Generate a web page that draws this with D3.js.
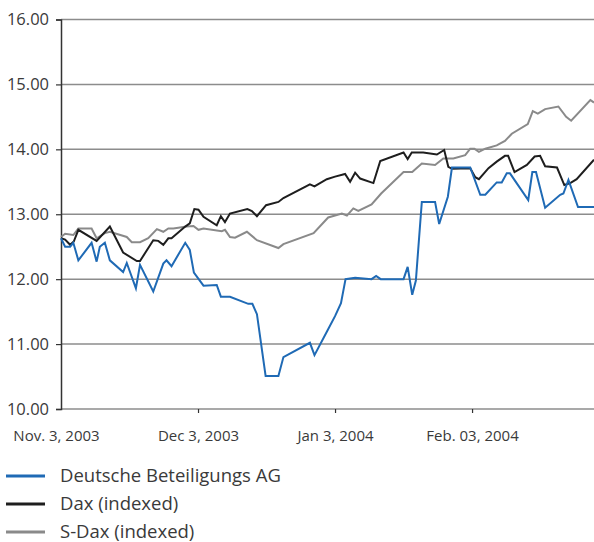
<!DOCTYPE html>
<html>
<head>
<meta charset="utf-8">
<script src="https://cdn.jsdelivr.net/npm/d3@7"></script>
<style>
  body { margin: 0; background: #fff; }
  svg text { font-family: "Open Sans", sans-serif; fill: #3a3a3a; }
</style>
</head>
<body>
<div id="chart"></div>
<script>
// x values are days since Nov. 3, 2003
const blueDays = [0, 0.9, 2.0, 2.7, 3.8, 6.7, 7.8, 8.5, 9.6, 10.7, 13.6, 14.4, 16.4, 17.3, 20.2, 22.4, 23.1, 24.2, 27.2, 28.2,
  29.1, 31.2, 34.1, 35.0, 37.0, 41.0, 41.9, 42.9, 44.8, 47.6, 48.7, 54.5, 55.5, 58.2, 60.0, 61.3, 62.3, 64.4, 68.0, 69.0,
  70.0, 75.0, 75.9, 76.9, 77.7, 79.0, 81.9, 82.8, 84.7, 85.6, 89.6, 91.8, 92.9, 95.4, 96.5, 97.6, 98.3, 102.3, 103.2, 104.0,
  106.0, 109.3, 110.0, 111.1, 113.2, 116.7];
const blueValues = [12.63, 12.50, 12.50, 12.56, 12.29, 12.56, 12.27, 12.50, 12.56, 12.29, 12.11, 12.25, 11.86, 12.22, 11.81, 12.24, 12.29, 12.20, 12.56, 12.45,
  12.10, 11.90, 11.91, 11.73, 11.73, 11.62, 11.62, 11.46, 10.51, 10.51, 10.80, 11.02, 10.83, 11.19, 11.43, 11.63, 12.00, 12.02, 12.00, 12.05,
  12.00, 12.00, 12.19, 11.76, 11.98, 13.19, 13.19, 12.85, 13.27, 13.72, 13.72, 13.30, 13.30, 13.49, 13.49, 13.63, 13.63, 13.22, 13.65, 13.65,
  13.10, 13.30, 13.32, 13.53, 13.11, 13.11];

const daxDays = [0, 0.9, 2.0, 2.8, 3.8, 7.8, 10.7, 13.6, 16.6, 17.3, 20.2, 21.3, 22.4, 23.5, 24.2, 27.2, 28.2, 29.2, 30.1, 31.2,
  34.1, 35.0, 35.9, 37.0, 40.8, 41.8, 42.9, 44.9, 47.6, 48.7, 54.5, 55.5, 58.2, 60.0, 62.2, 63.3, 64.4, 65.5, 68.4, 69.9,
  75.0, 75.9, 76.8, 79.3, 82.3, 83.9, 84.8, 85.6, 89.6, 90.7, 91.5, 93.6, 95.4, 97.2, 97.9, 99.3, 102.0, 103.7, 104.9, 106.0,
  108.6, 110.2, 111.5, 112.9, 116.7];
const daxValues = [12.63, 12.61, 12.53, 12.58, 12.76, 12.59, 12.81, 12.41, 12.28, 12.28, 12.60, 12.59, 12.53, 12.63, 12.63, 12.81, 12.86, 13.08, 13.07, 12.96,
  12.83, 12.97, 12.88, 13.01, 13.08, 13.05, 12.97, 13.14, 13.19, 13.25, 13.46, 13.43, 13.54, 13.58, 13.62, 13.50, 13.64, 13.55, 13.48, 13.82,
  13.95, 13.85, 13.95, 13.95, 13.92, 13.99, 13.73, 13.70, 13.71, 13.57, 13.54, 13.71, 13.81, 13.90, 13.90, 13.65, 13.76, 13.89, 13.90, 13.74,
  13.72, 13.45, 13.48, 13.54, 13.84];

const sdaxDays = [0, 0.9, 2.7, 3.8, 6.7, 7.8, 9.6, 10.7, 14.4, 15.5, 17.3, 19.1, 21.0, 22.4, 23.5, 24.6, 27.5, 29.0, 30.1, 31.2,
  35.2, 35.9, 37.0, 38.1, 40.7, 42.9, 47.6, 48.7, 55.3, 58.5, 61.5, 62.6, 64.0, 65.1, 68.0, 70.1, 75.0, 76.9, 79.0, 81.9,
  83.7, 85.9, 88.5, 89.6, 90.5, 91.5, 92.9, 95.4, 97.2, 98.7, 102.2, 103.3, 104.4, 106.0, 108.9, 110.6, 111.7, 115.9, 116.7];
const sdaxValues = [12.65, 12.70, 12.68, 12.78, 12.78, 12.63, 12.71, 12.73, 12.65, 12.57, 12.57, 12.63, 12.77, 12.73, 12.78, 12.78, 12.81, 12.82, 12.76, 12.78,
  12.74, 12.76, 12.65, 12.64, 12.73, 12.60, 12.48, 12.54, 12.71, 12.95, 13.01, 12.98, 13.09, 13.05, 13.15, 13.32, 13.65, 13.65, 13.78, 13.76,
  13.86, 13.86, 13.91, 14.01, 14.01, 13.96, 14.01, 14.06, 14.13, 14.24, 14.39, 14.59, 14.55, 14.62, 14.66, 14.50, 14.44, 14.76, 14.72];

const yTicks = [10, 11, 12, 13, 14, 15, 16];
const xTickDays = [0, 30, 60, 90];
const xTickLabels = ["Nov. 3, 2003", "Dec 3, 2003", "Jan 3, 2004", "Feb. 03, 2004"];

const seriesNames = ["Deutsche Beteiligungs AG", "Dax (indexed)", "S-Dax (indexed)"];
const seriesColors = ["#1f6ab5", "#1e1e1e", "#8a8a8a"];

const width = 594, height = 542;
const svg = d3.select("#chart").append("svg")
  .attr("width", width)
  .attr("height", height);

const x = d3.scaleLinear().domain([0, 116.7]).range([61, 594]);
const y = d3.scaleLinear().domain([10, 16]).range([409, 19.5]);

// gridlines
svg.selectAll(".grid")
  .data(yTicks)
  .enter()
  .append("line")
  .attr("x1", 61)
  .attr("x2", 594)
  .attr("y1", d => y(d))
  .attr("y2", d => y(d))
  .attr("stroke", "#8c8c8c")
  .attr("stroke-width", 1.5);

// y axis
const yAxis = svg.append("g")
  .attr("transform", "translate(61,0)")
  .call(d3.axisLeft(y).tickValues(yTicks).tickSize(5).tickPadding(7).tickFormat(d3.format(".2f")));
yAxis.select(".domain").attr("stroke", "#333").attr("stroke-width", 1.5);
yAxis.selectAll(".tick line").attr("stroke", "#333").attr("stroke-width", 1.2);
yAxis.selectAll("text").style("font-size", "16.5px").attr("fill", "#3a3a3a");

// x axis (ticks + labels only, baseline is the 10.00 gridline)
const xAxis = svg.append("g")
  .attr("transform", `translate(0,${y(10)})`)
  .call(d3.axisBottom(x).tickValues(xTickDays).tickSize(4).tickPadding(17)
    .tickFormat((d, i) => xTickLabels[i]));
xAxis.select(".domain").remove();
xAxis.selectAll(".tick line").attr("stroke", "#333").attr("stroke-width", 1.2)
  .filter(d => d === 0).remove();
xAxis.selectAll("text").style("font-size", "15px").attr("fill", "#3a3a3a")
  .attr("dx", d => d === 0 ? -5 : 0);

// lines
const series = [
  { days: sdaxDays, values: sdaxValues, color: seriesColors[2] },
  { days: daxDays, values: daxValues, color: seriesColors[1] },
  { days: blueDays, values: blueValues, color: seriesColors[0] }
];

const line = d3.line()
  .x(d => x(d[0]))
  .y(d => y(d[1]));

series.forEach(s => {
  svg.append("path")
    .datum(s.days.map((d, i) => [d, s.values[i]]))
    .attr("fill", "none")
    .attr("stroke", s.color)
    .attr("stroke-width", 2)
    .attr("stroke-linejoin", "miter")
    .attr("d", line);
});

// legend
const legend = svg.append("g");
seriesNames.forEach((name, i) => {
  const ly = 476 + i * 28;
  legend.append("line")
    .attr("x1", 6).attr("x2", 45)
    .attr("y1", ly).attr("y2", ly)
    .attr("stroke", seriesColors[i])
    .attr("stroke-width", 3);
  legend.append("text")
    .attr("x", 60)
    .attr("y", ly + 5.5)
    .style("font-size", "18.5px")
    .text(name);
});
</script>
</body>
</html>
